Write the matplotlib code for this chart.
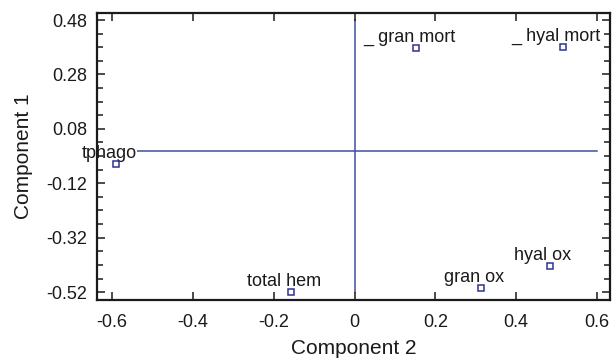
import matplotlib
matplotlib.use("Agg")
import matplotlib.pyplot as plt
from matplotlib.ticker import FixedLocator

plt.rcParams['font.family'] = ['Liberation Sans', 'DejaVu Sans']

labels = ["tphago", "_ gran mort", "_ hyal mort", "total hem", "gran ox", "hyal ox"]
comp2 = [-0.59, 0.152, 0.515, -0.156, 0.314, 0.483]
comp1 = [-0.048, 0.378, 0.38, -0.52, -0.505, -0.424]

xticks = [-0.6, -0.4, -0.2, 0, 0.2, 0.4, 0.6]
xticklabels = ["-0.6", "-0.4", "-0.2", "0", "0.2", "0.4", "0.6"]
yticks = [0.48, 0.28, 0.08, -0.12, -0.32, -0.52]
yticklabels = ["0.48", "0.28", "0.08", "-0.12", "-0.32", "-0.52"]

fig = plt.figure(figsize=(6.12, 3.61), dpi=100)
ax = fig.add_axes([97/612, 1-300/361, (610-97)/612, (300-13)/361])

line_color = "#3f4fa3"
mk_color = "#2e3192"

ax.plot([xticks[0], xticks[-1]], [0, 0], color=line_color, lw=1.1, zorder=1)
ax.plot([0, 0], [yticks[-1], yticks[0]], color=line_color, lw=1.1, zorder=1)

ax.plot(comp2, comp1, linestyle='none', marker='s', markersize=4.5,
        markerfacecolor='white', markeredgecolor=mk_color, markeredgewidth=1.1, zorder=3)

for lab, x, y in zip(labels, comp2, comp1):
    ax.annotate(lab, (x, y), xytext=(-7, 6), textcoords='offset pixels',
                ha='center', va='baseline', fontsize=13, color='#1a1a1a', zorder=2,
                bbox=dict(boxstyle='square,pad=0', fc='white', ec='none'))

ax.set_xlim(-0.637, 0.632)
ax.set_ylim(-0.549, 0.506)

ax.xaxis.set_major_locator(FixedLocator(xticks))
ax.set_xticklabels(xticklabels)
ax.yaxis.set_major_locator(FixedLocator(yticks))
ax.set_yticklabels(yticklabels)
ax.yaxis.set_minor_locator(FixedLocator([0.48 - 0.05*i for i in range(-1, 22)]))

ax.tick_params(which='both', direction='in', top=True, right=True, width=1.1,
               labelsize=13, colors='#1a1a1a')
ax.tick_params(which='major', length=6)
ax.tick_params(axis='x', which='major', pad=10)
ax.tick_params(axis='y', which='major', pad=7)
ax.tick_params(which='minor', length=4)

for s in ax.spines.values():
    s.set_linewidth(1.6)
    s.set_color('#1a1a1a')
    s.set_zorder(5)
ax.xaxis.set_zorder(5)
ax.yaxis.set_zorder(5)

ax.set_xlabel("Component 2", fontsize=15, labelpad=6, color='#1a1a1a')
ax.set_ylabel("Component 1", fontsize=15, labelpad=10, color='#1a1a1a')

fig.savefig("out.png", dpi=100)
